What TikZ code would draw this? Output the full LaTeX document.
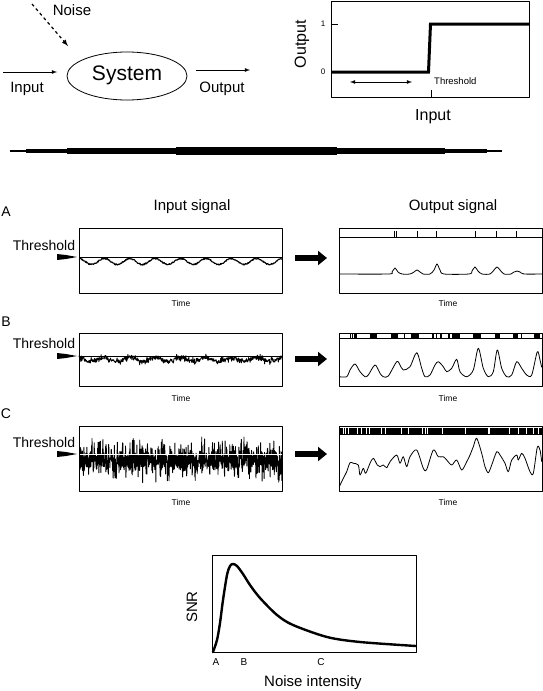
\documentclass[tikz,border=0pt]{standalone}
\usepackage{fontspec}
\setmainfont{Liberation Sans}
\usetikzlibrary{arrows}
\usetikzlibrary{arrows.meta}
\usetikzlibrary{shapes.geometric}
\usetikzlibrary{calc}
\tikzset{
  lbl/.style={inner sep=0pt, font=\fontsize{15}{17}\selectfont},
  tiny/.style={inner sep=0pt, font=\fontsize{8.5}{10}\selectfont},
  panelbox/.style={draw, line width=0.9pt},
  sig/.style={line width=1.1pt, line join=round},
  trace/.style={line width=0.8pt, line join=round},
  bigarrow/.style={line width=6pt, -{Triangle[length=9pt,width=14pt]}},
  pointer/.style={fill=black},
}
\begin{document}
\begin{tikzpicture}[x=1pt,y=-1pt,>=latex,line join=bevel]
\useasboundingbox (0,0) rectangle (543,691);
\pgfmathsetseed{12}
%% system sketch
  \node (sys) at (127,76) [draw,ellipse,line width=0.8pt,minimum width=120pt,minimum height=48pt,inner sep=0pt] {};
  \node (syslbl) at (127,75) [inner sep=0pt,font=\fontsize{21}{24}\selectfont] {System};
  \coordinate (noiseA) at (32,4);
  \coordinate (noiseB) at (68,46);
  \coordinate (inA) at (3,72);
  \coordinate (inB) at (57,72);
  \coordinate (outA) at (196,70);
  \coordinate (outB) at (250,70);
  \draw [->,dashed,line width=1.2pt] (noiseA) -- (noiseB);
  \draw [->,line width=0.8pt] (inA) -- (inB);
  \draw [->,line width=0.8pt] (outA) -- (outB);
  \node (noiselbl) at (72,10) [lbl] {Noise};
  \node (inlbl) at (27,89) [lbl] {Input};
  \node (outlbl) at (222,89) [lbl] {Output};
%% threshold characteristic
  \draw [panelbox] (331,1) rectangle (529,97);
  \draw [line width=0.8pt] (331,24) -- (338,24);
  \draw [line width=0.8pt] (331,72) -- (338,72);
  \draw [line width=0.8pt] (431,90) -- (431,97);
  \node (one) at (323,24) [tiny,font=\fontsize{8}{9}\selectfont] {1};
  \node (zero) at (323,72) [tiny,font=\fontsize{8}{9}\selectfont] {0};
  \draw [line width=3pt,line join=miter] (331,72) -- (428.5,72) -- (430.5,24) -- (529,24);
  \coordinate (rngA) at (350,82);
  \coordinate (rngB) at (412,82);
  \draw [<->,line width=0.8pt] (rngA) -- (rngB);
  \node (thrlbl) at (434,81) [tiny,anchor=west,font=\fontsize{9.5}{11}\selectfont] {Threshold};
  \node (ylbl) at (302,44) [lbl,rotate=90,font=\fontsize{16}{18}\selectfont] {Output};
  \node (xlbl) at (433,117) [lbl,font=\fontsize{16}{18}\selectfont] {Input};
%% separator bar
  \fill (10,150.3) rectangle (502,151.7);
  \fill (26,149) rectangle (487,153);
  \fill (67,147.7) rectangle (445,154.3);
  \fill (176,146.7) rectangle (337,155);
%% column heads
  \node (inhead) at (192,207) [lbl] {Input signal};
  \node (outhead) at (453,207) [lbl] {Output signal};
%% panel A
  \node (A) at (6,212) [lbl,font=\fontsize{14}{16}\selectfont] {A};
  \node (thrA) at (44,245) [lbl,font=\fontsize{14}{16}\selectfont] {Threshold};
  \fill [pointer] (57,254) -- (66,255) -- (77,257) -- (66,259) -- (57,260) -- cycle;
  \draw [panelbox] (79,228) rectangle (282,293);
  \draw [line width=0.8pt] (79,257) -- (282,257);
  \draw [sig] plot[domain=79:282,samples=400] (\x,{261.5-3*cos(14.173*(\x-79))+0.7*rand});
  \node (timeAi) at (181,303) [tiny] {Time};
  \coordinate (arrA1) at (295,258);
  \coordinate (arrA2) at (327,258);
  \draw [bigarrow] (arrA1) -- (arrA2);
  \draw [panelbox] (339,228) rectangle (542,293);
  \draw [line width=0.8pt] (339,237) -- (542,237);
  \foreach \s in {394.3,396.7,417.3,436.7,475.7,496.7,516.7}
    \draw [line width=1pt] (\s,231) -- (\s,237);
  \draw [trace] plot[smooth,tension=0.5] coordinates {(339,274) (388,274) (392,272) (395,268) (398,272) (402,274)
    (410,274) (414,272) (417,270) (420,272) (423,274) (430,274) (434,270) (437,264) (440,270) (444,274)
    (469,274) (472,271) (475,267) (478,271) (482,274) (490,274) (494,270) (497,267) (500,270) (504,274)
    (511,274) (514,272) (517,271) (520,272) (524,274) (542,274)};
  \node (timeAo) at (448,303) [tiny] {Time};
%% panel B
  \node (B) at (6,322) [lbl,font=\fontsize{14}{16}\selectfont] {B};
  \node (thrB) at (44,343) [lbl,font=\fontsize{14}{16}\selectfont] {Threshold};
  \fill [pointer] (57,353) -- (66,354) -- (77,356) -- (66,358) -- (57,359) -- cycle;
  \draw [panelbox] (79,333) rectangle (282,386);
  \draw [line width=0.8pt] (79,356) -- (282,356);
  \draw [sig,line width=0.9pt] plot[domain=79:282,samples=550] (\x,{359.5-2*cos(14.173*(\x-79))+1.8*rand+2.6*rand^3});
  \node (timeBi) at (181,398) [tiny] {Time};
  \coordinate (arrB1) at (295,359);
  \coordinate (arrB2) at (327,359);
  \draw [bigarrow] (arrB1) -- (arrB2);
  \draw [panelbox] (339,333) rectangle (542,386);
  \foreach \a/\b in {350/351,352/353,354/357,370/377,391/398,404/405,411/419,432/434,436/437,
      440/442,448/450,452/460,473/481,495/500,513/518,521/522,534/540}
    \fill (\a,332.5) rectangle (\b,338.5);
  \draw [line width=0.8pt] (339,338.5) -- (542,338.5);
  \draw [trace] plot[smooth,tension=0.5] coordinates {(339.3,376.7) (346.7,376.7) (350,370) (355,364) (360,371.7)
    (365,376.7) (368.3,375) (375,365) (380,373.3) (383.3,376.7) (388.3,376) (396.7,361.7) (400,365)
    (403.3,370) (410,366.7) (416.7,352.7) (421.7,368.3) (425,376.7) (430,375) (435,365) (438.3,361.7)
    (443.3,366.7) (446.7,371.7) (451.7,368.3) (456.7,359.3) (460,371.7) (466.7,376.7) (473.3,370)
    (478.3,348.3) (483.3,368.3) (488.3,376.7) (493.3,371.7) (497.3,350) (501.7,368.3) (506.7,376.7)
    (511.7,375) (516.7,361.7) (521.7,368.3) (526.7,375) (531.7,375) (537.3,351.7) (540,360) (541.7,367.3)};
  \node (timeBo) at (448,398) [tiny] {Time};
%% panel C
  \node (C) at (6,414) [lbl,font=\fontsize{14}{16}\selectfont] {C};
  \node (thrC) at (44,442) [lbl,font=\fontsize{14}{16}\selectfont] {Threshold};
  \fill [pointer] (57,451) -- (66,452) -- (77,454) -- (66,456) -- (57,457) -- cycle;
  \begin{scope}
    \clip (79,426) rectangle (282,491);
    \draw [sig,line width=0.9pt] plot[domain=79:282,samples=1000] (\x,{460+7*rand+17*rand^3});
  \end{scope}
  \draw [white,line width=0.9pt] (79,454) -- (282,454);
  \draw [panelbox] (79,426) rectangle (282,491);
  \node (timeCi) at (181,502) [tiny] {Time};
  \coordinate (arrC1) at (295,454);
  \coordinate (arrC2) at (327,454);
  \draw [bigarrow] (arrC1) -- (arrC2);
  \fill (339,427.5) rectangle (542,434);
  \foreach \g in {343,345,348,357,361,366,369,381,385,401,408,422,425,427,442,465,509,518,526,533,538}
    \draw [white,line width=0.8pt] (\g,428.3) -- (\g,433.5);
  \fill [white] (488,428.3) rectangle (490,433.5);
  \draw [panelbox] (339,426) rectangle (542,491);
  \draw [line width=0.8pt] (339,434.3) -- (542,434.3);
  \draw [trace] plot[smooth,tension=0.5] coordinates {(339.3,486.7) (343.3,478.3) (346.7,471.7) (350,462.7)
    (353.3,463.3) (358.3,465) (360,475) (363.3,468.3) (365.7,473.3) (370,463.3) (373.3,458.3) (377.3,465)
    (380,466.7) (383.3,465) (386.7,467.7) (390,461.7) (396.7,455) (400,463.3) (403.3,456.7) (406.7,466.7)
    (410,456.7) (416.7,450) (423.3,468.3) (426.7,469.3) (433.3,450) (438.3,456.7) (443.3,456.7) (446.7,460)
    (451.7,465) (456.7,460) (461.7,470) (466.7,461.7) (470,455) (473.3,446.7) (476.7,438.3) (481.7,453.3)
    (485,466.7) (488.3,472.7) (491.7,465) (496.7,451.7) (500,455) (505,463.3) (508.3,471.7) (511.7,460)
    (516.7,455) (518.3,460) (521.7,453.3) (525,458.3) (530,471.7) (533.3,473.3) (537.3,447.3) (540,450)
    (541.7,461.7)};
  \node (timeCo) at (448,502) [tiny] {Time};
%% SNR curve
  \draw [panelbox] (212,555) rectangle (416,652);
  \draw [line width=2.4pt,line cap=round] plot[smooth,tension=0.5] coordinates {(213,652) (217,640) (220,623)
    (223,600) (227,575) (230,566) (233,564) (237,566) (243,574) (250,585) (260,598) (277,615) (293,625)
    (327,637) (360,642) (416,646)};
  \node (snr) at (192,607) [lbl,rotate=90] {SNR};
  \node (nA) at (216,662) [tiny,font=\fontsize{10}{12}\selectfont] {A};
  \node (nB) at (244,662) [tiny,font=\fontsize{10}{12}\selectfont] {B};
  \node (nC) at (321,662) [tiny,font=\fontsize{10}{12}\selectfont] {C};
  \node (nlbl) at (313,683) [lbl] {Noise intensity};
%
\end{tikzpicture}
\end{document}
